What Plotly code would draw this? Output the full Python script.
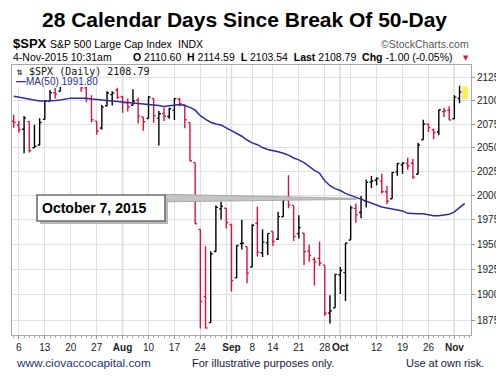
import math
import plotly.graph_objects as go

# ---------------- data ----------------
dates = [
    "2015-07-02", "2015-07-06", "2015-07-07", "2015-07-08", "2015-07-09", "2015-07-10",
    "2015-07-13", "2015-07-14", "2015-07-15", "2015-07-16", "2015-07-17",
    "2015-07-20", "2015-07-21", "2015-07-22", "2015-07-23", "2015-07-24",
    "2015-07-27", "2015-07-28", "2015-07-29", "2015-07-30", "2015-07-31",
    "2015-08-03", "2015-08-04", "2015-08-05", "2015-08-06", "2015-08-07",
    "2015-08-10", "2015-08-11", "2015-08-12", "2015-08-13", "2015-08-14",
    "2015-08-17", "2015-08-18", "2015-08-19", "2015-08-20", "2015-08-21",
    "2015-08-24", "2015-08-25", "2015-08-26", "2015-08-27", "2015-08-28",
    "2015-08-31", "2015-09-01", "2015-09-02", "2015-09-03", "2015-09-04",
    "2015-09-08", "2015-09-09", "2015-09-10", "2015-09-11",
    "2015-09-14", "2015-09-15", "2015-09-16", "2015-09-17", "2015-09-18",
    "2015-09-21", "2015-09-22", "2015-09-23", "2015-09-24", "2015-09-25",
    "2015-09-28", "2015-09-29", "2015-09-30", "2015-10-01", "2015-10-02",
    "2015-10-05", "2015-10-06", "2015-10-07", "2015-10-08", "2015-10-09",
    "2015-10-12", "2015-10-13", "2015-10-14", "2015-10-15", "2015-10-16",
    "2015-10-19", "2015-10-20", "2015-10-21", "2015-10-22", "2015-10-23",
    "2015-10-26", "2015-10-27", "2015-10-28", "2015-10-29", "2015-10-30",
    "2015-11-02", "2015-11-03", "2015-11-04",
]
opens = [
    2078.03, 2073.95, 2069.52, 2077.66, 2049.73, 2052.74,
    2080.03, 2099.72, 2109.01, 2110.55, 2126.80,
    2126.85, 2127.55, 2118.21, 2114.16, 2102.24,
    2078.19, 2070.75, 2094.70, 2106.78, 2111.60,
    2104.49, 2097.68, 2095.27, 2100.75, 2082.61,
    2080.98, 2102.66, 2081.10, 2086.19, 2083.15,
    2089.70, 2101.99, 2095.69, 2076.61, 2034.08,
    1965.15, 1898.08, 1872.75, 1942.77, 1986.06,
    1986.73, 1970.09, 1916.52, 1950.79, 1947.76,
    1927.30, 1971.45, 1941.59, 1951.45,
    1963.06, 1955.10, 1978.02, 1995.33, 1989.66,
    1960.84, 1961.39, 1943.24, 1934.81, 1935.93,
    1929.18, 1881.90, 1887.14, 1919.65, 1921.77,
    1954.33, 1986.63, 1982.34, 1994.01, 2013.73,
    2015.65, 2015.00, 2003.66, 1996.47, 2024.37,
    2031.73, 2033.13, 2033.47, 2021.88, 2058.19,
    2075.08, 2068.75, 2066.48, 2088.35, 2090.00,
    2080.76, 2102.63, 2110.60,
]
highs = [
    2085.06, 2078.61, 2083.74, 2077.66, 2074.28, 2081.31,
    2100.67, 2111.98, 2114.14, 2124.42, 2128.91,
    2132.82, 2128.49, 2118.51, 2116.87, 2106.01,
    2078.19, 2095.60, 2110.60, 2110.48, 2114.24,
    2105.70, 2102.51, 2112.66, 2103.32, 2082.61,
    2105.35, 2102.66, 2089.06, 2092.93, 2092.45,
    2102.87, 2103.47, 2096.17, 2076.61, 2034.08,
    1965.15, 1948.04, 1943.09, 1989.60, 1993.48,
    1986.73, 1970.09, 1948.91, 1975.01, 1947.76,
    1970.42, 1988.63, 1965.29, 1961.05,
    1963.06, 1983.19, 1997.26, 2020.86, 1989.66,
    1979.64, 1961.39, 1949.52, 1937.17, 1952.89,
    1929.18, 1899.48, 1920.53, 1927.21, 1951.36,
    1989.17, 1991.62, 1999.31, 2016.50, 2020.13,
    2018.66, 2022.34, 2009.56, 2024.15, 2033.54,
    2034.45, 2039.12, 2037.97, 2055.20, 2079.74,
    2075.14, 2070.37, 2090.35, 2092.52, 2094.32,
    2106.20, 2116.48, 2114.59,
]
lows = [
    2071.02, 2066.11, 2044.02, 2044.66, 2049.73, 2052.74,
    2080.03, 2099.72, 2102.49, 2110.55, 2119.88,
    2123.66, 2115.40, 2110.00, 2098.63, 2077.09,
    2063.52, 2069.09, 2094.08, 2094.97, 2102.07,
    2087.31, 2088.60, 2095.27, 2075.53, 2067.91,
    2080.98, 2076.49, 2052.09, 2078.26, 2080.61,
    2079.30, 2094.14, 2070.53, 2035.73, 1970.89,
    1867.01, 1867.08, 1872.75, 1942.77, 1975.19,
    1965.98, 1903.07, 1916.52, 1944.72, 1911.21,
    1927.30, 1937.88, 1937.19, 1939.19,
    1948.27, 1954.30, 1977.93, 1986.73, 1953.45,
    1955.80, 1929.22, 1932.57, 1908.92, 1928.35,
    1879.21, 1871.91, 1887.14, 1900.70, 1893.70,
    1954.33, 1971.99, 1976.44, 1987.53, 2007.61,
    2010.55, 2001.78, 1990.73, 1996.47, 2020.46,
    2022.31, 2026.61, 2017.22, 2021.88, 2058.19,
    2066.53, 2058.84, 2063.11, 2082.63, 2079.34,
    2080.76, 2097.51, 2103.54,
]
closes = [
    2076.78, 2068.76, 2081.34, 2046.68, 2051.31, 2076.62,
    2099.60, 2108.95, 2107.40, 2124.29, 2126.64,
    2128.28, 2119.21, 2114.15, 2102.15, 2079.65,
    2067.64, 2093.25, 2108.57, 2108.63, 2103.84,
    2098.04, 2093.32, 2099.84, 2083.56, 2077.57,
    2104.18, 2084.07, 2086.05, 2083.39, 2091.54,
    2102.44, 2096.92, 2079.61, 2035.73, 1970.89,
    1893.21, 1867.61, 1940.51, 1987.66, 1988.87,
    1972.18, 1913.85, 1948.86, 1951.13, 1921.22,
    1969.41, 1942.04, 1952.29, 1961.05,
    1953.03, 1978.09, 1995.31, 1990.20, 1958.03,
    1966.97, 1942.74, 1938.76, 1932.24, 1931.34,
    1881.77, 1884.09, 1920.03, 1923.82, 1951.36,
    1987.05, 1979.92, 1995.83, 2013.43, 2014.89,
    2017.46, 2003.69, 1994.24, 2023.86, 2033.11,
    2033.66, 2030.77, 2018.94, 2052.51, 2075.15,
    2071.18, 2065.89, 2090.35, 2089.41, 2079.36,
    2104.05, 2109.79, 2108.79,
]
prior_close = 2077.42  # close before the first bar (sets the first bar's colour)

ma50 = [
    2105.0, 2104.0, 2103.0, 2102.0, 2101.0, 2100.0,
    2100.0, 2100.0, 2100.5, 2101.0, 2102.0,
    2103.0, 2103.0, 2103.0, 2103.0, 2102.0,
    2101.5, 2101.0, 2100.0, 2099.5, 2099.0,
    2099.0, 2098.0, 2098.0, 2097.5, 2097.0,
    2096.0, 2095.5, 2095.0, 2094.0, 2094.5,
    2095.5, 2096.0, 2095.0, 2093.0, 2090.0,
    2084.0, 2080.0, 2077.0, 2075.0, 2074.0,
    2071.0, 2068.0, 2065.0, 2062.0, 2058.0,
    2055.0, 2053.0, 2050.0, 2048.0,
    2047.0, 2045.5, 2044.0, 2042.0, 2039.0,
    2037.0, 2034.0, 2030.0, 2026.0, 2023.0,
    2015.0, 2010.0, 2007.0, 2005.0, 2002.0,
    2000.0, 1998.0, 1996.0, 1994.0, 1992.0,
    1990.0, 1988.0, 1987.0, 1986.0, 1985.0,
    1984.0, 1981.5, 1981.0, 1981.0, 1981.0,
    1980.0, 1979.0, 1979.0, 1979.5, 1980.5,
    1983.0, 1987.0, 1991.8,
]

tick_dates = ["2015-07-06", "2015-07-13", "2015-07-20", "2015-07-27", "2015-08-03",
              "2015-08-10", "2015-08-17", "2015-08-24", "2015-08-31", "2015-09-01",
              "2015-09-08", "2015-09-14", "2015-09-21", "2015-09-28", "2015-10-01",
              "2015-10-05", "2015-10-12", "2015-10-19", "2015-10-26", "2015-11-02"]
tick_labels = ["6", "13", "20", "27", "<b>Aug</b>", "10", "17", "24", " ", "<b>Sep</b>",
               "8", "14", "21", "28", "<b>Oct</b>", " ", "12", "19", "26", "<b>Nov</b>"]
month_dates = ["2015-08-03", "2015-09-01", "2015-10-01", "2015-11-02"]
price_ticks = [1875, 1900, 1925, 1950, 1975, 2000, 2025, 2050, 2075, 2100, 2125]
callout_date = "2015-10-07"

# ---------------- styling ----------------
UP = "#000000"
DOWN = "#d9123f"
MA_COL = "#2b2ba3"
FONT = "Liberation Sans, Arial, sans-serif"
W, H = 504, 379
PAGE_OFF = 8                      # default page margin around the plot div
PL, PT, PR, PB = 12, 65, 471, 335  # plot area as seen in the window
ML, MT = PL - PAGE_OFF, PT - PAGE_OFF
MR, MB = W - (PR - PAGE_OFF), H - (PB - PAGE_OFF)
PW, PH = PR - PL, PB - PT

n = len(dates)
xs = list(range(n))
prev = [prior_close] + closes[:-1]
up_i = [i for i in xs if closes[i] >= prev[i]]
dn_i = [i for i in xs if closes[i] < prev[i]]

XMIN, XMAX = -0.33, 88.21
YMIN, YMAX = math.log10(1860.8), math.log10(2139.3)


def px(xp):
    return (xp - PL) / PW


def py(yp):
    return (PB - yp) / PH


def dx(v):
    return (v - XMIN) / (XMAX - XMIN)


def dy(p):
    return (math.log10(p) - YMIN) / (YMAX - YMIN)


fig = go.Figure()

# yellow highlight behind the latest bar
li = n - 1
fig.add_trace(go.Scatter(
    x=[li - 0.6, li + 0.6, li + 0.6, li - 0.6, li - 0.6],
    y=[lows[li] * 0.9994, lows[li] * 0.9994, highs[li] * 1.0006, highs[li] * 1.0006, lows[li] * 0.9994],
    fill="toself", fillcolor="#f6f05a", line=dict(width=0), mode="lines", hoverinfo="skip"))

for idx, col in ((up_i, UP), (dn_i, DOWN)):
    fig.add_trace(go.Ohlc(
        x=idx,
        open=[opens[i] for i in idx], high=[highs[i] for i in idx],
        low=[lows[i] for i in idx], close=[closes[i] for i in idx],
        text=[dates[i] for i in idx],
        increasing=dict(line=dict(color=col, width=1.4)),
        decreasing=dict(line=dict(color=col, width=1.4)),
        tickwidth=0.38, showlegend=False))

fig.add_trace(go.Scatter(x=xs, y=ma50, mode="lines", text=dates,
                         line=dict(color=MA_COL, width=1.5), showlegend=False))

shapes = []
# darker month-start gridlines
for d in month_dates:
    shapes.append(dict(type="line", xref="x", yref="paper", x0=dates.index(d), x1=dates.index(d),
                       y0=0, y1=1, line=dict(color="#b4b4b4", width=1.3), layer="below"))
# white legend background
shapes.append(dict(type="rect", xref="paper", yref="paper", x0=px(12.6), x1=px(93), y0=py(87), y1=py(65.8),
                   fillcolor="white", line=dict(width=0), layer="above"))
# callout pointer toward the Oct 7 bar
ci = dates.index(callout_date)
tipx = dx(ci - 0.85)
tipy = dy(closes[ci] * 1.0003)
shapes.append(dict(type="path", xref="paper", yref="paper",
                   path=f"M {px(165)},{py(194.3)} L {tipx},{tipy + 0.002} L {tipx},{tipy - 0.002} L {px(165)},{py(201.8)} Z",
                   fillcolor="#c4c4c4", line=dict(color="#9a9a9a", width=0.8), layer="above"))
# callout box shadow + box
shapes.append(dict(type="rect", xref="paper", yref="paper", x0=px(40), x1=px(168), y0=py(224), y1=py(198),
                   fillcolor="#b8b8b8", line=dict(width=0), layer="above"))
shapes.append(dict(type="rect", xref="paper", yref="paper", x0=px(37), x1=px(165), y0=py(221), y1=py(195),
                   fillcolor="white", line=dict(color="#6e6e6e", width=1.6), layer="above"))

annotations = []


def ann(x, y, text, size, color="#000", anchor="left", family=FONT):
    annotations.append(dict(xref="paper", yref="paper", x=px(x), y=py(y), text=text, showarrow=False,
                            xanchor=anchor, yanchor="middle",
                            font=dict(size=size, color=color, family=family)))


ann(244.5, 20, "<b>28 Calendar Days Since Break Of 50-Day</b>", 21, anchor="center")
ann(11, 43, "<b>$SPX</b>", 13)
ann(48, 44, "S&P 500 Large Cap Index", 10.5)
ann(176, 44, "INDX", 10.5)
ann(471, 44, "©StockCharts.com", 10.5, color="#555", anchor="right")
ann(11, 57, "4-Nov-2015 10:31am", 10.5)
ann(131, 57, "<b>O</b> 2110.60\u00a0 <b>H</b> 2114.59\u00a0 <b>L</b> 2103.54\u00a0 <b>Last</b> 2108.79\u00a0 "
             "<b>Chg</b> -1.00 (-0.05%)", 10.5)
ann(466, 57.5, "▼", 7, color=DOWN, anchor="center", family="DejaVu Sans")
ann(14, 71, "⇅ $SPX (Daily) 2108.79", 10, color="#111", family="DejaVu Sans Mono, monospace")
ann(13.5, 81, "<b>—</b>MA(50) 1991.80", 10, color=MA_COL)
ann(40, 208, "<b>October 7, 2015</b>", 14)
ann(14, 362.5, "www.ciovaccocapital.com", 11.8, color="#22347c")
ann(190, 362.5, "For illustrative purposes only.", 11, color="#16163e")
ann(404, 362.5, "Use at own risk.", 11, color="#16163e")

fig.update_layout(
    width=W, height=H, autosize=False,
    margin=dict(l=ML, r=MR, t=MT, b=MB, pad=0, autoexpand=False),
    paper_bgcolor="white", plot_bgcolor="white", showlegend=False,
    font=dict(family=FONT, size=10, color="#222"),
    shapes=shapes, annotations=annotations,
    xaxis=dict(range=[XMIN, XMAX], tickmode="array", automargin=False, tickangle=0,
               tickvals=[dates.index(d) for d in tick_dates], ticktext=tick_labels,
               showgrid=True, gridcolor="#e0e0e0", gridwidth=1, zeroline=False,
               ticks="outside", ticklen=3, tickcolor="#999",
               showline=True, linecolor="#a8a8a8", linewidth=1, mirror=True,
               tickfont=dict(size=10, color="#222"),
               minor=dict(tickmode="linear", tick0=0, dtick=1, ticks="outside", ticklen=2,
                          tickcolor="#aaa", showgrid=False),
               rangeslider=dict(visible=False)),
    yaxis=dict(type="log", range=[YMIN, YMAX], side="right", tickmode="array", automargin=False,
               tickvals=price_ticks, ticktext=[str(v) for v in price_ticks],
               showgrid=True, gridcolor="#e0e0e0", gridwidth=1, zeroline=False,
               ticks="outside", ticklen=3, tickcolor="#999",
               showline=True, linecolor="#a8a8a8", linewidth=1, mirror=True,
               tickfont=dict(size=10, color="#222")),
)

fig.write_html("out.html")
